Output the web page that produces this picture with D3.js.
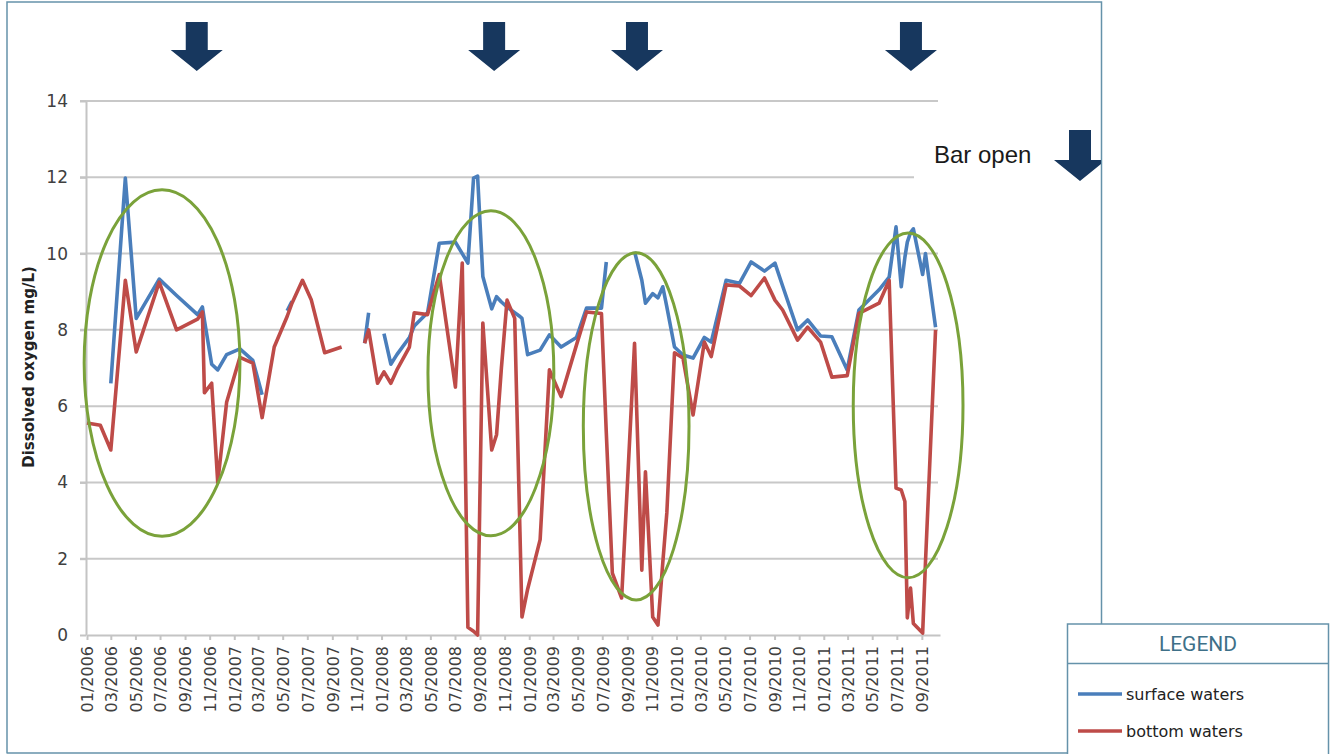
<!DOCTYPE html>
<html>
<head>
<meta charset="utf-8">
<script src="https://cdnjs.cloudflare.com/ajax/libs/d3/7.8.5/d3.min.js"></script>
<style>
  body { margin: 0; background: #fff; }
  svg { display: block; }
  .axis text { font-family: "DejaVu Sans", sans-serif; fill: #404040; }
  .axis line, .axis path { stroke: #c4c4c4; stroke-width: 2; }
</style>
</head>
<body>
<svg id="chart" width="1330" height="754"></svg>
<script>
// sample dates, with the two depths (mg/L, null = no reading)
var sampleDates = [
  "2006-01-01","2006-02-03","2006-03-01","2006-04-06","2006-05-03","2006-06-29","2006-08-11",
  "2006-10-02","2006-10-14","2006-10-19","2006-11-06","2006-11-21","2006-12-13","2007-01-15",
  "2007-02-16","2007-03-11","2007-04-10","2007-05-12","2007-05-24","2007-06-19","2007-07-11",
  "2007-08-13","2007-09-24","2007-10-20",
  "2007-11-20","2007-11-30","2007-12-22","2008-01-07","2008-01-24","2008-02-08","2008-03-10",
  "2008-03-22","2008-04-24","2008-05-23","2008-07-02","2008-07-19","2008-08-02","2008-08-16",
  "2008-08-26","2008-09-08","2008-09-30","2008-10-12","2008-10-24","2008-11-07","2008-11-26",
  "2008-12-09","2008-12-14","2008-12-28","2009-01-28","2009-02-20","2009-03-21","2009-04-28",
  "2009-05-23","2009-06-29","2009-07-11","2009-07-26","2009-08-18","2009-09-19","2009-10-07",
  "2009-10-16","2009-11-03","2009-11-16","2009-11-28","2009-12-08","2009-12-27","2010-01-17",
  "2010-02-11","2010-03-11","2010-03-28","2010-05-04","2010-06-06","2010-07-05","2010-08-07",
  "2010-09-02","2010-09-21","2010-10-28","2010-11-22","2010-12-24","2011-01-21","2011-02-28",
  "2011-03-29","2011-05-18","2011-06-12","2011-06-29","2011-07-12","2011-07-21","2011-07-27",
  "2011-08-04","2011-08-11","2011-09-03","2011-09-10","2011-10-05"
];
var surfaceWaters = [
  null, null, 6.6, 11.98, 8.3, 9.33, 8.9,
  8.4, 8.6, 8.25, 7.1, 6.95, 7.35, 7.5,
  7.2, 6.3, null, 8.5, 8.75, null, null,
  null, null, null,
  7.65, 8.45, null, 7.9, 7.1, 7.35, 7.8,
  8.1, 8.45, 10.27, 10.3, 10.0, 9.75, 11.98,
  12.03, 9.4, 8.55, 8.87, 8.73, 8.6, 8.45,
  8.35, 8.3, 7.35, 7.47, 7.87, 7.55, 7.8,
  8.57, 8.57, 9.78, null, null, 10.05, 9.3,
  8.7, 8.95, 8.84, 9.13, 8.6, 7.55, 7.34,
  7.26, 7.8, 7.68, 9.3, 9.22, 9.78, 9.54,
  9.75, 9.15, 8.0, 8.26, 7.84, 7.82, 6.95,
  8.52, 9.05, 9.38, 10.7, 9.13, 9.9, 10.3,
  10.55, 10.65, 9.45, 10.0, 8.07
];
var bottomWaters = [
  5.56, 5.5, 4.85, 9.3, 7.42, 9.25, 8.0,
  8.28, 8.47, 6.35, 6.6, 4.0, 6.1, 7.28,
  7.13, 5.7, 7.55, 8.35, 8.7, 9.3, 8.78,
  7.4, 7.55, null,
  7.65, 8.0, 6.6, 6.9, 6.6, 6.95, 7.55,
  8.45, 8.4, 9.45, 6.5, 9.75, 0.2, 0.1,
  0.0, 8.18, 4.85, 5.25, 7.0, 8.78, 8.3,
  2.7, 0.47, 1.2, 2.5, 6.95, 6.25, 7.6,
  8.47, 8.43, 5.3, 1.62, 0.97, 7.65, 1.7,
  4.28, 0.47, 0.26, 1.9, 3.2, 7.4, 7.26,
  5.77, 7.68, 7.3, 9.18, 9.15, 8.9, 9.36,
  8.78, 8.52, 7.73, 8.07, 7.68, 6.76, 6.8,
  8.43, 8.7, 9.3, 3.85, 3.8, 3.5, 0.45,
  1.23, 0.3, 0.05, 1.9, 8.0
];
var yTicks = [0, 2, 4, 6, 8, 10, 12, 14];
var seriesNames = ["surface waters", "bottom waters"];
var seriesColors = ["#4a7ebb", "#be4b48"];

// annotations: bar-opening dates (arrows) and circled hypoxic periods
var barOpenDates = ["2006-09-30", "2008-10-06", "2009-09-25", "2011-08-05"];
var circleCentre = ["2006-07-06", "2008-09-28", "2009-09-23", "2011-07-29"];
var circleMid = [7.13, 6.86, 5.47, 6.02];
var circleHalfDays = [193, 156, 131, 136];
var circleHalfValue = [4.54, 4.26, 4.55, 4.52];

var parse = d3.timeParse("%Y-%m-%d");
var svg = d3.select("#chart");

var x = d3.scaleTime()
  .domain([parse("2006-01-01"), parse("2011-10-16")])
  .range([87, 940]);
var y = d3.scaleLinear().domain([0, 14]).range([635, 101]);

var rows = sampleDates.map(function(d, i) {
  return { date: parse(d), s: surfaceWaters[i], b: bottomWaters[i] };
});

// frame
svg.append("path")
  .attr("d", "M7,753.5 V2 H1101.5 V624 M7,753 H1067")
  .attr("fill", "none").attr("stroke", "#6592aa").attr("stroke-width", 1.5);

// gridlines
svg.append("g").selectAll("line")
  .data(yTicks.filter(function(t) { return t > 0; }))
  .enter().append("line")
  .attr("x1", 80).attr("x2", 938)
  .attr("y1", function(d) { return y(d); })
  .attr("y2", function(d) { return y(d); })
  .attr("stroke", "#c8c8c8").attr("stroke-width", 2);

// axes
var monthTicks = d3.timeMonth.every(2).range(parse("2006-01-01"), parse("2011-10-01"));
var xAxis = svg.append("g").attr("class", "axis")
  .attr("transform", "translate(0,635)")
  .call(d3.axisBottom(x).tickValues(monthTicks)
    .tickFormat(d3.timeFormat("%m/%Y")).tickSize(5).tickSizeOuter(0));
xAxis.selectAll("text")
  .attr("transform", "rotate(-90)")
  .attr("text-anchor", "end")
  .attr("x", -11).attr("y", 0).attr("dy", "0.36em")
  .style("font-size", "16px");

var yAxis = svg.append("g").attr("class", "axis")
  .attr("transform", "translate(86,0)")
  .call(d3.axisLeft(y).tickValues(yTicks).tickSize(6).tickPadding(12).tickSizeOuter(0));
yAxis.selectAll("text").style("font-size", "17px");

svg.append("text")
  .attr("transform", "translate(34,367) rotate(-90)")
  .attr("text-anchor", "middle")
  .style("font-family", "DejaVu Sans, sans-serif")
  .style("font-weight", "bold").style("font-size", "15px").attr("fill", "#222")
  .text("Dissolved oxygen mg/L)");

// series
var keys = ["s", "b"];
keys.forEach(function(k, i) {
  var line = d3.line()
    .defined(function(d) { return d[k] != null; })
    .x(function(d) { return x(d.date); })
    .y(function(d) { return y(d[k]); });
  svg.append("path").datum(rows)
    .attr("d", line)
    .attr("fill", "none")
    .attr("stroke", seriesColors[i])
    .attr("stroke-width", 3.6)
    .attr("stroke-linejoin", "round");
});

// circled periods
svg.append("g").selectAll("ellipse")
  .data(circleCentre)
  .enter().append("ellipse")
  .attr("cx", function(d) { return x(parse(d)); })
  .attr("cy", function(d, i) { return y(circleMid[i]); })
  .attr("rx", function(d, i) { return x(d3.timeDay.offset(parse(d), circleHalfDays[i])) - x(parse(d)); })
  .attr("ry", function(d, i) { return y(circleMid[i] - circleHalfValue[i]) - y(circleMid[i]); })
  .attr("fill", "none").attr("stroke", "#7aa23a").attr("stroke-width", 3);

// arrows
function arrow(cx, top, headY, tip) {
  return "M" + (cx - 11) + "," + top + " H" + (cx + 11) + " V" + headY +
    " H" + (cx + 26) + " L" + cx + "," + tip + " L" + (cx - 26) + "," + headY +
    " H" + (cx - 11) + " Z";
}
svg.append("g").selectAll("path")
  .data(barOpenDates)
  .enter().append("path")
  .attr("d", function(d) { return arrow(x(parse(d)), 22, 50, 71); })
  .attr("fill", "#17375e");

svg.append("clipPath").attr("id", "frameClip")
  .append("rect").attr("x", 0).attr("y", 0).attr("width", 1101).attr("height", 754);
svg.append("rect").attr("x", 914).attr("y", 134).attr("width", 134).attr("height", 46).attr("fill", "#fff");
svg.append("text")
  .attr("x", 934).attr("y", 163)
  .style("font-family", "Liberation Sans, Arial, sans-serif").style("font-size", "24px")
  .attr("fill", "#1a1a1a").text("Bar open");
svg.append("path")
  .attr("clip-path", "url(#frameClip)")
  .attr("d", arrow(1080, 130, 160, 181))
  .attr("fill", "#17375e");

// legend
var lg = svg.append("g");
lg.append("rect").attr("x", 1067.5).attr("y", 624).attr("width", 261).attr("height", 140)
  .attr("fill", "#fff").attr("stroke", "#6592aa").attr("stroke-width", 1.5);
lg.append("line").attr("x1", 1067).attr("x2", 1329).attr("y1", 663.5).attr("y2", 663.5)
  .attr("stroke", "#6592aa").attr("stroke-width", 1.5);
lg.append("text").attr("x", 1198).attr("y", 651).attr("text-anchor", "middle")
  .style("font-family", "Liberation Sans Narrow, Roboto, sans-serif").style("font-size", "21px")
  .attr("fill", "#3e7088").text("LEGEND");
var items = lg.selectAll("g.item").data(seriesNames).enter().append("g")
  .attr("transform", function(d, i) { return "translate(0," + (694 + i * 37) + ")"; });
items.append("line").attr("x1", 1078).attr("x2", 1122)
  .attr("stroke", function(d, i) { return seriesColors[i]; }).attr("stroke-width", 3.4);
items.append("text").attr("x", 1126).attr("y", 5.5)
  .style("font-family", "DejaVu Sans, sans-serif").style("font-size", "16px")
  .attr("fill", "#222").text(function(d) { return d; });
</script>
</body>
</html>
